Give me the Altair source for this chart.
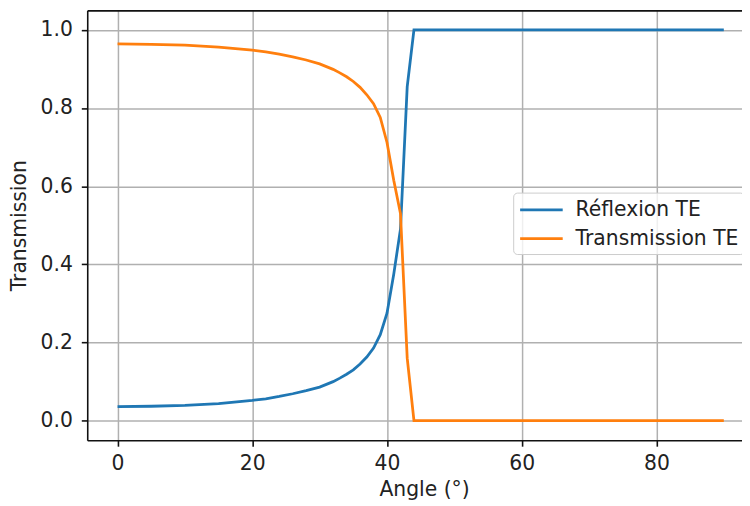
import altair as alt
import pandas as pd

angles = [0, 5, 10, 15, 20, 22, 24, 26, 28, 30, 31, 32, 33, 34, 35, 36, 37, 38, 39,
          40, 41, 42, 43, 44, 90]
reflexion = [0.036, 0.037, 0.039, 0.044, 0.052, 0.056, 0.062, 0.069, 0.077, 0.086,
             0.093, 0.100, 0.109, 0.119, 0.130, 0.145, 0.163, 0.186, 0.220,
             0.275, 0.375, 0.490, 0.855, 1.0, 1.0]
transmission = [0.964, 0.963, 0.961, 0.956, 0.948, 0.944, 0.938, 0.931, 0.923, 0.913,
                0.906, 0.899, 0.890, 0.880, 0.868, 0.853, 0.834, 0.811, 0.776,
                0.712, 0.615, 0.530, 0.160, 0.0, 0.0]
series_names = ["Réflexion TE", "Transmission TE"]
series_colors = ["#1f77b4", "#ff7f0e"]
x_ticks = [0, 20, 40, 60, 80]
y_ticks = [0.0, 0.2, 0.4, 0.6, 0.8, 1.0]

rows = []
for a, r in zip(angles, reflexion):
    rows.append({"angle": a, "value": r, "serie": series_names[0], "ord": 0})
for a, t in zip(angles, transmission):
    rows.append({"angle": a, "value": t, "serie": series_names[1], "ord": 1})
df = pd.DataFrame(rows)

FS = 20.5
xscale = alt.Scale(domain=[-4.5, 92.7], nice=False, zero=False)
yscale = alt.Scale(domain=[-0.05, 1.05], nice=False, zero=False)

lines = alt.Chart(df).mark_line(strokeWidth=2.8).encode(
    x=alt.X("angle:Q", scale=xscale,
            axis=alt.Axis(values=x_ticks, title="Angle (°)", format="d",
                          titleX=340, titleY=50, titleBaseline="middle",
                          titleFontWeight="normal", labelPadding=8)),
    y=alt.Y("value:Q", scale=yscale,
            axis=alt.Axis(values=y_ticks, title="Transmission", format=".1f",
                          titleX=-68, titleY=217, titleAngle=270,
                          titleAlign="center", titleBaseline="middle",
                          titleFontWeight="normal", labelPadding=9)),
    color=alt.Color("serie:N",
                    scale=alt.Scale(domain=series_names, range=series_colors),
                    legend=alt.Legend(title=None, orient="none", legendX=430, legendY=184,
                                      direction="vertical", symbolType="M-2,0L2,0",
                                      symbolStrokeWidth=2.8, symbolSize=462,
                                      symbolOffset=11,
                                      labelFontSize=FS, labelOffset=22, labelLimit=400,
                                      labelColor="#222222", labelFont="DejaVu Sans",
                                      fillColor="rgba(255,255,255,0.8)",
                                      strokeColor="#cccccc", cornerRadius=4,
                                      padding=5, rowPadding=6)),
    detail="ord:N",
)

frame_top = alt.Chart(df).mark_line(opacity=0).encode(
    x=alt.X("angle:Q", scale=xscale,
            axis=alt.Axis(orient="top", labels=False, ticks=False, grid=False,
                          title=None, domain=True)),
    y=alt.Y("value:Q", scale=yscale, axis=None),
)

chart = alt.layer(lines, frame_top).resolve_axis(x="independent", y="independent").properties(
    width=661, height=434,
    autosize=alt.AutoSizeParams(type="none"),
    padding={"left": 80, "top": 0, "right": 0, "bottom": 64},
).configure_view(stroke=None).configure_axis(
    domainColor="#111111", domainWidth=1.6,
    tickColor="#111111", tickWidth=1.6, tickSize=6,
    labelFont="DejaVu Sans", labelFontSize=FS, labelColor="#222222",
    labelPadding=6,
    titleFont="DejaVu Sans", titleFontSize=FS, titleColor="#222222",
    gridColor="#b0b0b0", gridWidth=1.5, grid=True,
)

chart.save("out.html", embed_options={"renderer": "svg", "actions": False})
